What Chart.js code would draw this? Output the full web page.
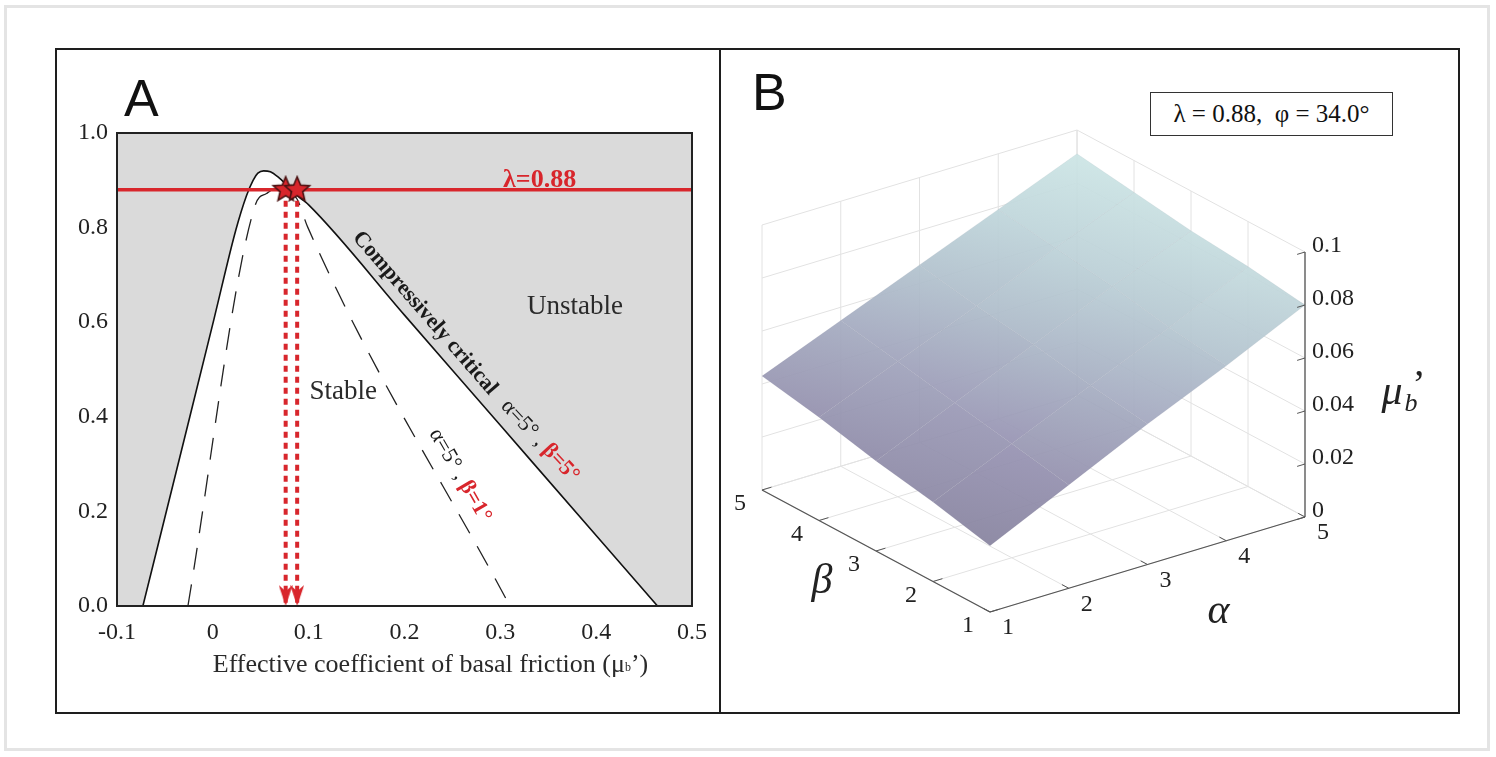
<!DOCTYPE html>
<html>
<head>
<meta charset="utf-8">
<script src="https://cdn.jsdelivr.net/npm/chart.js@4.4.1/dist/chart.umd.min.js"></script>
<style>
  body { margin: 0; background: #fff; width: 1496px; height: 757px; position: relative; overflow: hidden; font-family: "Liberation Serif", serif; }
  #card { position: absolute; left: 4px; top: 5px; width: 1486px; height: 746px; box-sizing: border-box; border: 3px solid #e4e4e4; }
  #fig { position: absolute; left: 55px; top: 48px; width: 1405px; height: 666px; box-sizing: border-box; border: 2px solid #1e1e1e; }
  #divider { position: absolute; left: 719px; top: 48px; width: 2px; height: 666px; background: #1e1e1e; }
  #wrapA { position: absolute; left: 57px; top: 50px; width: 662px; height: 662px; }
  #wrapB { position: absolute; left: 721px; top: 50px; width: 737px; height: 662px; }
  .tag { position: absolute; font-family: "Liberation Sans", Arial, sans-serif; font-size: 52px; line-height: 52px; color: #111; }
  #legend { position: absolute; left: 1150px; top: 92px; width: 243px; height: 44px; box-sizing: border-box; border: 1.5px solid #333; background: #fff;
            font-size: 25px; line-height: 41px; text-align: center; white-space: pre; color: #111; }
</style>
</head>
<body>
<div id="card"></div>
<div id="fig"></div>
<div id="divider"></div>
<div id="wrapA"><canvas id="chartA" width="662" height="662"></canvas></div>
<div id="wrapB"><canvas id="chartB" width="737" height="662"></canvas></div>
<div class="tag" style="left:124px;top:72px">A</div>
<div class="tag" style="left:752px;top:66px">B</div>
<div id="legend">λ = 0.88,  φ = 34.0°</div>

<script>
// ---------- panel A data ----------
const xTicks = [-0.1, 0, 0.1, 0.2, 0.3, 0.4, 0.5];
const xTickLabels = ['-0.1', '0', '0.1', '0.2', '0.3', '0.4', '0.5'];
const yTicks = [0, 0.2, 0.4, 0.6, 0.8, 1.0];
const yTickLabels = ['0.0', '0.2', '0.4', '0.6', '0.8', '1.0'];

// compressively critical curve, alpha=5, beta=5 (solid)
const critB5X = [-0.073, -0.024, 0.001, 0.024, 0.035, 0.042, 0.047, 0.053, 0.060, 0.068, 0.080, 0.091, 0.100, 0.200, 0.300, 0.400, 0.464];
const critB5Y = [0, 0.40, 0.605, 0.795, 0.867, 0.900, 0.915, 0.920, 0.918, 0.907, 0.884, 0.863, 0.848, 0.615, 0.382, 0.149, 0];
// alpha=5, beta=1 (dashed)
const critB1X = [-0.026, 0.044, 0.056, 0.066, 0.076, 0.088, 0.099, 0.310];
const critB1Y = [0, 0.846, 0.872, 0.882, 0.880, 0.860, 0.801, 0];

const lambda = 0.88;
const markerX = [0.076, 0.088];   // mu_b' where lambda line meets the curves

// ---------- panel B data ----------
const alphaVals = [1, 2, 3, 4, 5];
const betaVals = [1, 2, 3, 4, 5];
const muTicks = [0, 0.02, 0.04, 0.06, 0.08, 0.1];
const muTickLabels = ['0', '0.02', '0.04', '0.06', '0.08', '0.1'];
// mu_b' on the alpha x beta grid, one row per beta (1..5), columns alpha (1..5)
const muRows = [
  [0.025, 0.039, 0.053, 0.066, 0.080],
  [0.030, 0.043, 0.056, 0.069, 0.083],
  [0.034, 0.047, 0.060, 0.073, 0.085],
  [0.039, 0.051, 0.063, 0.076, 0.088],
  [0.043, 0.055, 0.067, 0.079, 0.091]
];

const red = '#d8262c';
const serif = "'Liberation Serif', 'Times New Roman', serif";

function drawRuns(ctx, runs, cx, cy, angle) {
  ctx.save();
  ctx.translate(cx, cy);
  ctx.rotate(angle * Math.PI / 180);
  ctx.textBaseline = 'middle';
  ctx.textAlign = 'left';
  let total = 0;
  runs.forEach(r => { ctx.font = r.font; r.w = ctx.measureText(r.text).width; total += r.w; });
  let x = -total / 2;
  runs.forEach(r => {
    ctx.font = r.font;
    ctx.fillStyle = r.color || '#1a1a1a';
    ctx.fillText(r.text, x, r.dy || 0);
    x += r.w;
  });
  ctx.restore();
}

// filled star / arrow head used as point styles
function makeStar(r) {
  const c = document.createElement('canvas');
  c.width = c.height = 2 * r + 4;
  const g = c.getContext('2d');
  g.beginPath();
  for (let i = 0; i < 10; i++) {
    const rad = i % 2 ? r * 0.45 : r;
    const a = -Math.PI / 2 + i * Math.PI / 5;
    g.lineTo(c.width / 2 + rad * Math.cos(a), c.height / 2 + rad * Math.sin(a));
  }
  g.closePath();
  g.fillStyle = red; g.fill();
  g.lineWidth = 1.6; g.strokeStyle = '#4a1212'; g.stroke();
  return c;
}
function makeArrow(w, h) {
  const c = document.createElement('canvas');
  c.width = w; c.height = 2 * h;   // tip sits at the image centre
  const g = c.getContext('2d');
  g.beginPath();
  g.moveTo(0, 0); g.lineTo(w / 2, h * 0.3); g.lineTo(w, 0); g.lineTo(w / 2, h);
  g.closePath();
  g.fillStyle = red; g.fill();
  return c;
}
const starImg = makeStar(13);
const arrowImg = makeArrow(14, 21);

const zip = (xs, ys) => xs.map((x, i) => ({ x: x, y: ys[i] }));

const panelAPlugin = {
  id: 'panelA',
  beforeDatasetsDraw(chart) {
    const { ctx, chartArea: a } = chart;
    ctx.save();
    ctx.fillStyle = '#dadada';
    ctx.fillRect(a.left, a.top, a.right - a.left, a.bottom - a.top);
    ctx.restore();
  },
  afterDatasetsDraw(chart) {
    const { ctx, chartArea: a } = chart;
    ctx.save();
    ctx.strokeStyle = '#222';
    ctx.lineWidth = 2;
    ctx.strokeRect(a.left, a.top, a.right - a.left, a.bottom - a.top);
    ctx.restore();
  },
  afterDraw(chart) {
    const { ctx, chartArea: a } = chart;
    const xs = chart.scales.x, ys = chart.scales.y;
    const at = (x, y) => [xs.getPixelForValue(x), ys.getPixelForValue(y)];
    drawRuns(ctx, [{ text: 'λ=0.88', font: 'bold 26px ' + serif, color: red }], ...at(0.341, 0.90), 0);
    drawRuns(ctx, [{ text: 'Unstable', font: '27px ' + serif, color: '#2a2a2a' }], ...at(0.378, 0.632), 0);
    drawRuns(ctx, [{ text: 'Stable', font: '27px ' + serif, color: '#2a2a2a' }], ...at(0.136, 0.452), 0);
    drawRuns(ctx, [{ text: 'Compressively critical', font: 'bold 22px ' + serif }], ...at(0.2214, 0.619), 49);
    drawRuns(ctx, [
      { text: 'α=5°', font: '22px ' + serif },
      { text: ' , ', font: '22px ' + serif },
      { text: 'β=5°', font: 'bold 22px ' + serif, color: red }
    ], ...at(0.3414, 0.349), 47);
    drawRuns(ctx, [
      { text: 'α=5°', font: '22px ' + serif },
      { text: ' , ', font: '22px ' + serif },
      { text: 'β=1°', font: 'bold 22px ' + serif, color: red }
    ], ...at(0.258, 0.276), 60);
    // x axis title with subscript
    drawRuns(ctx, [
      { text: 'Effective coefficient of basal friction (μ', font: '26px ' + serif, color: '#2a2a2a' },
      { text: 'b', font: '12px ' + serif, color: '#2a2a2a', dy: 3 },
      { text: '’)', font: '26px ' + serif, color: '#2a2a2a' }
    ], (a.left + a.right) / 2 + 26, a.bottom + 59, 0);
  }
};

new Chart(document.getElementById('chartA'), {
  type: 'line',
  data: {
    datasets: [
      { data: markerX.map(x => ({ x: x, y: lambda })), showLine: false, pointStyle: starImg, pointRadius: 13 },
      { data: markerX.map(x => ({ x: x, y: 0 })), showLine: false, pointStyle: arrowImg, pointRadius: 10 },
      { data: [{ x: markerX[0], y: lambda }, { x: markerX[0], y: 0 }], borderColor: red, borderWidth: 4, borderDash: [6, 5], pointRadius: 0 },
      { data: [{ x: markerX[1], y: lambda }, { x: markerX[1], y: 0 }], borderColor: red, borderWidth: 4, borderDash: [6, 5], pointRadius: 0 },
      { data: [{ x: xTicks[0], y: lambda }, { x: xTicks[xTicks.length - 1], y: lambda }], borderColor: red, borderWidth: 3.5, pointRadius: 0 },
      { data: zip(critB1X, critB1Y), borderColor: '#222', borderWidth: 1.3, borderDash: [22, 15], pointRadius: 0, cubicInterpolationMode: 'monotone' },
      { data: zip(critB5X, critB5Y), borderColor: '#111', borderWidth: 1.6, pointRadius: 0, cubicInterpolationMode: 'monotone',
        fill: 'origin', backgroundColor: '#ffffff' }
    ]
  },
  options: {
    animation: false,
    responsive: false,
    layout: { padding: { left: 15, right: 26, top: 83, bottom: 26 } },
    plugins: { legend: { display: false }, tooltip: { enabled: false } },
    scales: {
      x: {
        type: 'linear', min: xTicks[0], max: xTicks[xTicks.length - 1],
        grid: { display: false, drawTicks: false }, border: { display: false },
        afterBuildTicks: s => { s.ticks = xTicks.map(v => ({ value: v })); },
        afterFit: s => { s.height = 80; },
        ticks: { padding: 12, color: '#222', font: { family: serif, size: 24 }, maxRotation: 0, autoSkip: false,
                 callback: (v, i) => xTickLabels[i] }
      },
      y: {
        type: 'linear', min: yTicks[0], max: yTicks[yTicks.length - 1],
        grid: { display: false, drawTicks: false }, border: { display: false },
        afterBuildTicks: s => { s.ticks = yTicks.map(v => ({ value: v })); },
        afterFit: s => { s.width = 45; },
        ticks: { padding: 9, color: '#222', font: { family: serif, size: 24 }, autoSkip: false,
                 callback: (v, i) => yTickLabels[i] }
      }
    }
  },
  plugins: [panelAPlugin]
});

// ---------- panel B: 3D surface projected onto the scatter plane ----------
const view = { fx: 269, fy: 562, ax: 78.75, ay: -23.75, bx: -57, by: -30.5, mz: -2650 };
function proj(a, b, m) {
  return {
    x: view.fx + (a - alphaVals[0]) * view.ax + (b - betaVals[0]) * view.bx,
    y: view.fy + (a - alphaVals[0]) * view.ay + (b - betaVals[0]) * view.by + m * view.mz
  };
}
const surfStops = [[0.025, [134, 130, 158]], [0.045, [152, 148, 180]], [0.06, [170, 182, 198]], [0.075, [187, 209, 215]], [0.091, [204, 229, 229]]];
function cmap(m) {
  if (m <= surfStops[0][0]) return 'rgb(' + surfStops[0][1].join(',') + ')';
  for (let k = 1; k < surfStops.length; k++) {
    if (m <= surfStops[k][0]) {
      const t = (m - surfStops[k - 1][0]) / (surfStops[k][0] - surfStops[k - 1][0]);
      const c = surfStops[k - 1][1].map((v, i) => Math.round(v + t * (surfStops[k][1][i] - v)));
      return 'rgb(' + c.join(',') + ')';
    }
  }
  return 'rgb(' + surfStops[surfStops.length - 1][1].join(',') + ')';
}

const surfacePoints = [];
betaVals.forEach((b, j) => alphaVals.forEach((a, i) => surfacePoints.push(proj(a, b, muRows[j][i]))));

const surfacePlugin = {
  id: 'surface3d',
  beforeDatasetsDraw(chart) {
    const ctx = chart.ctx, xs = chart.scales.x, ys = chart.scales.y;
    const P = (a, b, m) => { const p = proj(a, b, m); return [xs.getPixelForValue(p.x), ys.getPixelForValue(p.y)]; };
    const seg = (p, q) => { ctx.beginPath(); ctx.moveTo(p[0], p[1]); ctx.lineTo(q[0], q[1]); ctx.stroke(); };
    const a0 = alphaVals[0], a1 = alphaVals[alphaVals.length - 1];
    const b0 = betaVals[0], b1 = betaVals[betaVals.length - 1];
    const mTop = muTicks[muTicks.length - 1];

    ctx.save();
    // box grid: floor and the two back walls
    ctx.strokeStyle = '#e2e2e2';
    ctx.lineWidth = 1;
    alphaVals.forEach(a => { seg(P(a, b0, 0), P(a, b1, 0)); seg(P(a, b1, 0), P(a, b1, mTop)); });
    betaVals.forEach(b => { seg(P(a0, b, 0), P(a1, b, 0)); seg(P(a1, b, 0), P(a1, b, mTop)); });
    muTicks.forEach(m => { seg(P(a0, b1, m), P(a1, b1, m)); seg(P(a1, b0, m), P(a1, b1, m)); });

    // surface
    ctx.globalAlpha = 0.92;
    for (let j = 0; j < betaVals.length - 1; j++) {
      for (let i = 0; i < alphaVals.length - 1; i++) {
        const c = [[i, j], [i + 1, j], [i + 1, j + 1], [i, j + 1]]
          .map(([ii, jj]) => P(alphaVals[ii], betaVals[jj], muRows[jj][ii]));
        const g = ctx.createLinearGradient(c[0][0], c[0][1], c[2][0], c[2][1]);
        g.addColorStop(0, cmap(muRows[j][i]));
        g.addColorStop(1, cmap(muRows[j + 1][i + 1]));
        ctx.beginPath();
        c.forEach((p, k) => k ? ctx.lineTo(p[0], p[1]) : ctx.moveTo(p[0], p[1]));
        ctx.closePath();
        ctx.fillStyle = g;
        ctx.fill();
        ctx.strokeStyle = 'rgba(110,110,135,0.10)';
        ctx.lineWidth = 0.7;
        ctx.stroke();
      }
    }
    ctx.globalAlpha = 1;

    // axes
    ctx.strokeStyle = '#555';
    ctx.lineWidth = 1.3;
    seg(P(a0, b1, 0), P(a0, b0, 0));
    seg(P(a0, b0, 0), P(a1, b0, 0));
    seg(P(a1, b0, 0), P(a1, b0, mTop));
    ctx.lineWidth = 1;
    betaVals.forEach(b => seg(P(a0, b, 0), P(a0 + 0.12, b, 0)));
    alphaVals.forEach(a => seg(P(a, b0, 0), P(a, b0 + 0.12, 0)));
    muTicks.forEach(m => seg(P(a1, b0, m), P(a1 - 0.1, b0, m)));

    // tick labels
    ctx.fillStyle = '#222';
    ctx.font = '24px ' + serif;
    ctx.textAlign = 'center';
    ctx.textBaseline = 'middle';
    betaVals.forEach(b => { const p = P(a0, b, 0); ctx.fillText(String(b), p[0] - 22, p[1] + 14); });
    alphaVals.forEach(a => { const p = P(a, b0, 0); ctx.fillText(String(a), p[0] + 18, p[1] + 16); });
    ctx.textAlign = 'left';
    muTicks.forEach((m, k) => { const p = P(a1, b0, m); ctx.fillText(muTickLabels[k], p[0] + 7, p[1] - 6); });

    // axis titles
    ctx.textAlign = 'center';
    ctx.font = 'italic 42px ' + serif;
    const pb = P(a0, (b0 + b1) / 2, 0);
    ctx.fillText('β', pb[0] - 54, pb[1] + 31);
    const pa = P((a0 + a1) / 2, b0, 0);
    ctx.fillText('α', pa[0] + 71, pa[1] + 47);
    const pm = P(a1, b0, mTop / 2);
    ctx.fillText('μ', pm[0] + 87, pm[1] + 8);
    ctx.font = 'italic 26px ' + serif;
    ctx.fillText('b', pm[0] + 106, pm[1] + 20);
    ctx.font = '40px ' + serif;
    ctx.fillText('’', pm[0] + 114, pm[1] + 2);
    ctx.restore();
  }
};

new Chart(document.getElementById('chartB'), {
  type: 'scatter',
  data: { datasets: [{ data: surfacePoints, pointRadius: 0 }] },
  options: {
    animation: false,
    responsive: false,
    layout: { padding: 0 },
    plugins: { legend: { display: false }, tooltip: { enabled: false } },
    scales: {
      x: { display: false, min: 0, max: 737 },
      y: { display: false, min: 0, max: 662, reverse: true }
    }
  },
  plugins: [surfacePlugin]
});
</script>
</body>
</html>
